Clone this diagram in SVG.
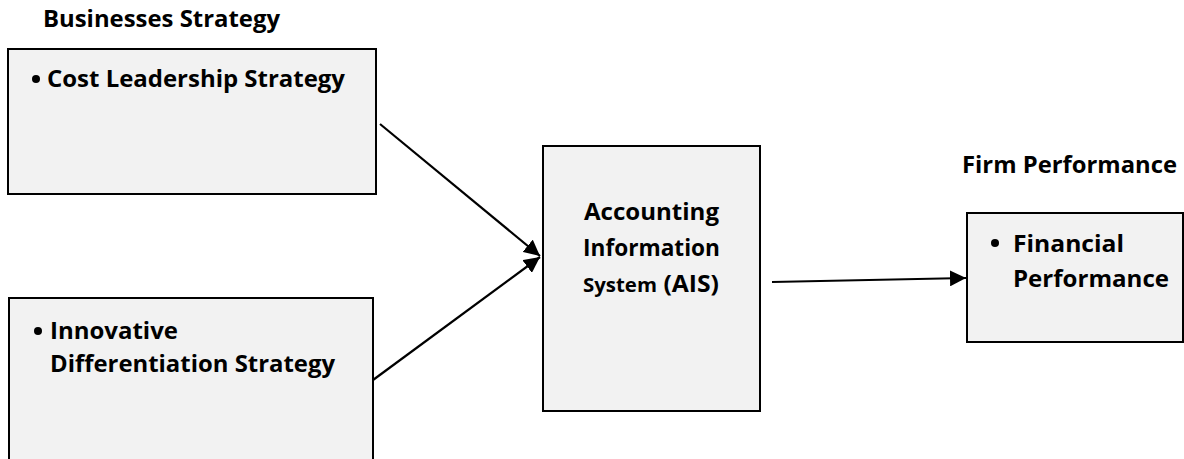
<svg xmlns="http://www.w3.org/2000/svg" width="1184" height="459" viewBox="0 0 1184 459">
<style>
.box{fill:#f2f2f2;stroke:#000;stroke-width:2}
.t{font-family:"Open Sans",Lato,"Liberation Sans",sans-serif;font-weight:bold;font-size:23px;fill:#000}
.s{font-size:19px}
.c{stroke:#000;stroke-width:2.2;fill:none}
</style>
<defs>
<marker id="ah2" viewBox="0 0 10 10" refX="10" refY="5" markerWidth="16" markerHeight="16" markerUnits="userSpaceOnUse" orient="auto">
<path d="M0,0 L10,5 L0,10 z" fill="#000"/>
</marker>
</defs>
<g id="label-business">
<text class="t" x="43" y="27" textLength="237" lengthAdjust="spacingAndGlyphs">Businesses Strategy</text>
</g>
<g id="node-cost">
<rect class="box" x="8" y="49" width="368" height="145"/>
<circle cx="36" cy="79" r="4" fill="#000"/>
<text class="t" x="47" y="87" textLength="298" lengthAdjust="spacingAndGlyphs">Cost Leadership Strategy</text>
</g>
<g id="node-innov">
<rect class="box" x="9" y="298" width="364" height="170"/>
<circle cx="38" cy="331" r="4" fill="#000"/>
<text class="t" x="50" y="339" textLength="128" lengthAdjust="spacingAndGlyphs">Innovative</text>
<text class="t" x="50" y="372" textLength="285" lengthAdjust="spacingAndGlyphs">Differentiation Strategy</text>
</g>
<g id="node-ais">
<rect class="box" x="543" y="146" width="217" height="265"/>
<text class="t" x="584" y="220" textLength="135" lengthAdjust="spacingAndGlyphs">Accounting</text>
<text class="t" x="583" y="256" textLength="137" lengthAdjust="spacingAndGlyphs">Information</text>
<text class="t" x="583" y="292" textLength="136" lengthAdjust="spacingAndGlyphs"><tspan class="s">System</tspan> (AIS)</text>
</g>
<g id="label-firm">
<text class="t" x="962" y="173" textLength="215" lengthAdjust="spacingAndGlyphs">Firm Performance</text>
</g>
<g id="node-fin">
<rect class="box" x="967" y="213" width="216" height="129"/>
<circle cx="995" cy="243" r="4" fill="#000"/>
<text class="t" x="1013" y="252" textLength="111" lengthAdjust="spacingAndGlyphs">Financial</text>
<text class="t" x="1013" y="287" textLength="156" lengthAdjust="spacingAndGlyphs">Performance</text>
</g>
<g id="connectors">
<line class="c" x1="380" y1="124" x2="540" y2="256" marker-end="url(#ah2)"/>
<line class="c" x1="373" y1="380" x2="540" y2="257" marker-end="url(#ah2)"/>
<line class="c" x1="772" y1="282" x2="966" y2="278" marker-end="url(#ah2)"/>
</g>
</svg>
